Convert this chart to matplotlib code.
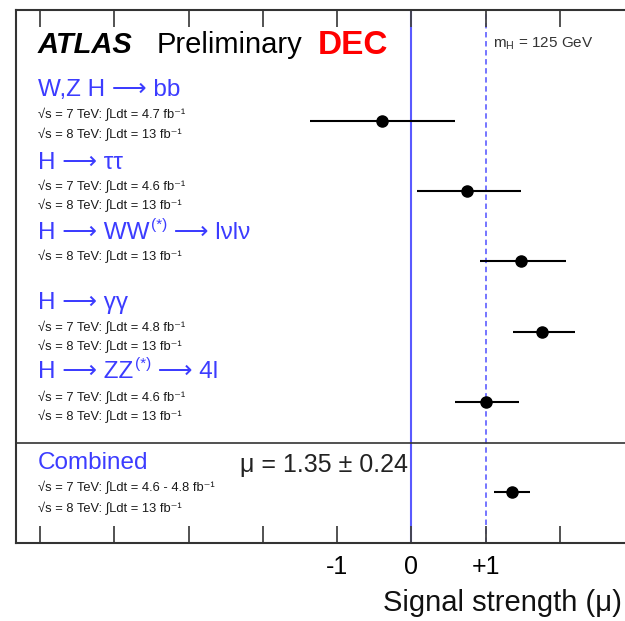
import matplotlib
matplotlib.use("Agg")
import matplotlib.pyplot as plt

plt.rcParams['font.family'] = ['Liberation Sans', 'DejaVu Sans']
plt.rcParams['mathtext.fontset'] = 'custom'
plt.rcParams['mathtext.rm'] = 'Liberation Sans'
plt.rcParams['mathtext.it'] = 'Liberation Sans:italic'

# dane: kanaly, wartosci mu i niepewnosci
channels = ["W,Z H ⟶ bb", "H ⟶ ττ", "H ⟶ WW^(*) ⟶ lνlν",
            "H ⟶ γγ", "H ⟶ ZZ^(*) ⟶ 4l", "Combined"]
lumi_lines = [
    ["√s = 7 TeV: ∫Ldt = 4.7 fb⁻¹", "√s = 8 TeV: ∫Ldt = 13 fb⁻¹"],
    ["√s = 7 TeV: ∫Ldt = 4.6 fb⁻¹", "√s = 8 TeV: ∫Ldt = 13 fb⁻¹"],
    ["√s = 8 TeV: ∫Ldt = 13 fb⁻¹"],
    ["√s = 7 TeV: ∫Ldt = 4.8 fb⁻¹", "√s = 8 TeV: ∫Ldt = 13 fb⁻¹"],
    ["√s = 7 TeV: ∫Ldt = 4.6 fb⁻¹", "√s = 8 TeV: ∫Ldt = 13 fb⁻¹"],
    ["√s = 7 TeV: ∫Ldt = 4.6 - 4.8 fb⁻¹", "√s = 8 TeV: ∫Ldt = 13 fb⁻¹"],
]
mu = [-0.40, 0.75, 1.48, 1.76, 1.00, 1.35]
err_lo = [0.96, 0.67, 0.56, 0.40, 0.42, 0.24]
err_hi = [0.98, 0.72, 0.60, 0.44, 0.45, 0.24]
tick_vals = [-5, -4, -3, -2, -1, 0, 1, 2, 3]
tick_labels = ["", "", "", "", "-1", "0", "+1", "", ""]

# uklad
W, H = 625, 621
X0_PX, UNIT_PX = 411.5, 74.3
x_min, x_max = -5.32, 3.0
rows = [5, 4, 3, 2, 1, -0.28]
title_px = [90, 163, 233, 303, 372, 463]
sub_px = [[114, 134], [186, 205], [256], [327, 346], [397, 416], [487, 508]]
blue = "#3c3cff"


def px(x, y):
    return x / W, 1 - y / H


fig = plt.figure(figsize=(W / 100, H / 100), dpi=100)
left_px = X0_PX + x_min * UNIT_PX
right_px = X0_PX + x_max * UNIT_PX
ax = fig.add_axes([left_px / W, 1 - 543 / H, (right_px - left_px) / W, 533 / H])
ax.set_xlim(x_min, x_max)
ax.set_ylim(-1.0, 6.57)

ax.axvline(0, color="#5a5aff", lw=1.5, zorder=1)
ax.axvline(1, color="#6a6aff", lw=1.3, ls=(0, (3, 2)), zorder=1)
ax.axhline(0.42, color="#333333", lw=1.2)

ax.errorbar(mu, rows, xerr=[err_lo, err_hi], fmt="o", color="black",
            ms=8, lw=1.5, capsize=0, zorder=3)

ax.set_xticks(tick_vals)
ax.set_xticklabels(tick_labels, fontsize=18)
ax.set_yticks([])
ax.tick_params(axis="x", direction="in", length=12, width=1.3, color="#444444",
               top=True, pad=9)
for s in ax.spines.values():
    s.set_color("#333333")
    s.set_linewidth(1.5)

# naglowek
fig.text(*px(38, 45), "ATLAS", fontsize=21, fontweight="bold", fontstyle="italic",
         va="center", ha="left")
fig.text(*px(157, 45), "Preliminary", fontsize=21, va="center", ha="left")
fig.text(*px(318, 46), "DEC", fontsize=24, fontweight="bold", color="red",
         va="center", ha="left")
fig.text(*px(493, 44), r"m$_{\mathrm{H}}$ = 125 GeV", fontsize=11, color="#333333",
         va="center", ha="left")

for i, name in enumerate(channels):
    parts = name.split("^(*)")
    t1 = fig.text(*px(38, title_px[i]), parts[0], fontsize=17.5, color=blue,
                  va="center", ha="left")
    if len(parts) > 1:
        # indeks gorny (*) jako osobny tekst
        t2 = ax.annotate("(*)", xy=(1.0, 0.55), xycoords=t1, xytext=(1, 0),
                         textcoords="offset points", fontsize=11, color=blue,
                         va="bottom", ha="left")
        ax.annotate(parts[1], xy=(1.0, 0.5), xycoords=(t2, t1), fontsize=17.5,
                    color=blue, va="center", ha="left")
    for line, yp in zip(lumi_lines[i], sub_px[i]):
        fig.text(*px(38, yp), line, fontsize=9.3, color="#1a1a1a",
                 va="center", ha="left")

fig.text(*px(240, 465), "μ = 1.35 ± 0.24", fontsize=18, color="#222222",
         va="center", ha="left")
fig.text(*px(383, 603), "Signal strength (μ)", fontsize=21, color="#111111",
         va="center", ha="left")

fig.savefig("out.png", dpi=100)
